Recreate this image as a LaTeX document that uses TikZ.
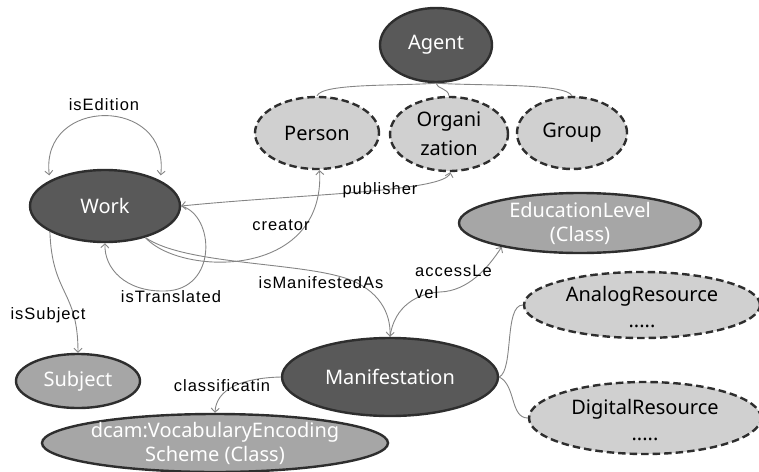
\documentclass[tikz,border=0pt]{standalone}
\usepackage{fontspec}
\setmainfont{Noto Sans}
\newfontfamily\labfont[LetterSpace=6]{Liberation Sans}
\usetikzlibrary{shapes.geometric,arrows.meta}
\definecolor{darkfill}{HTML}{595959}
\definecolor{midfill}{HTML}{A6A6A6}
\definecolor{lightfill}{HTML}{D0D0D0}
\definecolor{edge}{HTML}{2E2E2E}
\definecolor{conn}{HTML}{858585}
\begin{document}
\begin{tikzpicture}[x=1pt,y=-1pt,
  base/.style={ellipse, inner sep=0pt, line width=2.4pt, draw=edge},
  dark/.style={base, fill=darkfill, text=white},
  mid/.style={base, fill=midfill, text=white},
  light/.style={base, fill=lightfill, text=black, dash pattern=on 7.5pt off 4pt},
  nodetext/.style={font=\fontsize{20}{24}\selectfont, align=center, inner sep=0pt},
  lab/.style={font=\labfont\fontsize{16.5}{22}\selectfont, inner sep=0pt, text=black},
  conline/.style={draw=conn, line width=0.9pt},
  arr/.style={conline, -{Straight Barb[length=4pt,width=8pt]}},
  arrboth/.style={conline, {Straight Barb[length=4pt,width=8pt]}-{Straight Barb[length=4pt,width=8pt]}}
]
\useasboundingbox (0,0) rectangle (759,471);

% nodes
\node[dark, nodetext, minimum width=112pt, minimum height=74pt] (agent) at (436,45) {Agent};
\node[light, nodetext, minimum width=124pt, minimum height=72pt] (person) at (317,133) {Person};
\node[light, minimum width=118pt, minimum height=74pt] (org) at (449,134) {};
\node[nodetext, font=\fontsize{20}{29}\selectfont] at (org) {Organi\\zation};
\node[light, nodetext, minimum width=110pt, minimum height=72pt] (group) at (572,133) {Group};
\node[dark, nodetext, minimum width=150pt, minimum height=72pt] (work) at (105,206) {Work};
\node[mid, nodetext, minimum width=124pt, minimum height=54pt] (subject) at (78,381) {Subject};
\node[dark, nodetext, minimum width=216pt, minimum height=78pt] (manif) at (390,377) {Manifestation};
\node[mid, minimum width=346pt, minimum height=58pt] (dcam) at (215,443) {};
\node[nodetext, text=white] at (dcam) {dcam:VocabularyEncoding\\Scheme (Class)};
\node[mid, minimum width=242pt, minimum height=60pt] (edu) at (580,223) {};
\node[nodetext, text=white] at (edu) {EducationLevel\\(Class)};
\node[light, minimum width=236pt, minimum height=66pt] (analog) at (642,305) {};
\node[nodetext, font=\fontsize{20}{26}\selectfont] at (642,307) {AnalogResource\\.....};
\node[light, minimum width=232pt, minimum height=72pt] (digital) at (645,418) {};
\node[nodetext, font=\fontsize{20}{26}\selectfont] at (645,420) {DigitalResource\\.....};

% Agent hierarchy
\draw[conline] (agent.south) .. controls (400,86) and (322,83) .. (person.north);
\draw[conline] (agent.south) .. controls (437,89) and (448,88) .. (org.north);
\draw[conline] (agent.south) .. controls (480,86) and (566,83) .. (group.north);

% isEdition
\draw[arrboth, shorten <=5pt, shorten >=5pt] (work.155) .. controls (40,96) and (170,96) .. (work.25);
\node[lab] (lEdition) at (104,105) {isEdition};

% isTranslated
\draw[arr] (work.east) .. controls (215,215) and (218,290) .. (165,291)
  .. controls (125,292) and (104,268) .. (work.south);
\node[lab] (lTrans) at (171,297) {isTranslated};

% publisher
\draw[arrboth] (work.east) .. controls (300,194) and (445,192) .. (org.-88);
\node[lab] (lPub) at (380,190) {publisher};

% creator
\draw[arr] (work.-38) .. controls (180,276) and (325,280) .. (person.-86);
\node[lab] (lCreator) at (281,225) {creator};

% isManifestedAs
\draw[arr] (work.-38) .. controls (185,265) and (300,262) .. (348,279)
  .. controls (378,290) and (391,312) .. (manif.north);
\node[lab] (lManif) at (321,283) {isManifestedAs};

% accessLevel
\draw[arr] (manif.north) .. controls (394,306) and (418,293) .. (440,292)
  .. controls (468,291) and (488,268) .. (edu.197);
\node[lab, align=left, anchor=west] (lAccess) at (415,282) {accessLe\\vel};

% isSubject
\draw[arr] (work.205) .. controls (52,295) and (78,290) .. (subject.north);
\node[lab] (lSubj) at (48,315) {isSubject};

% classificatin
\draw[arr] (manif.west) .. controls (240,378) and (216,390) .. (dcam.north);
\node[lab] (lClass) at (222,386) {classificatin};

% Manifestation to resources
\draw[conline] (manif.east) .. controls (514,370) and (504,305) .. (analog.west);
\draw[conline] (manif.east) .. controls (516,385) and (510,418) .. (digital.west);
\end{tikzpicture}
\end{document}
